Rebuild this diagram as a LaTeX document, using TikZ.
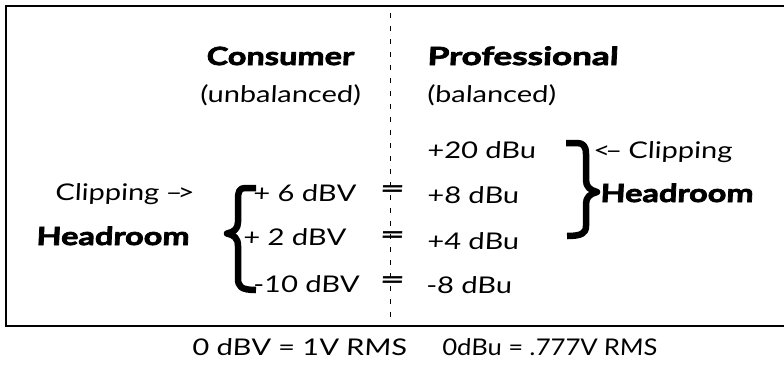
\documentclass[tikz,border=0pt]{standalone}
\usepackage{fontspec}
\setmainfont{Lato}[FakeSlant=0.05, FakeStretch=1.26]
\newfontfamily\heavy{Lato}[FakeSlant=0.05, FakeStretch=1.3, BoldFeatures={FakeBold=3}]
\begin{document}
\begin{tikzpicture}[x=1pt,y=-1pt,
  txt/.style={inner sep=0pt, anchor=base west, font=\fontsize{23}{26}\selectfont},
  hv/.style={inner sep=0pt, anchor=base west, font=\fontsize{25}{28}\heavy\bfseries},
  eq/.style={inner sep=0pt, anchor=center, font=\fontsize{23}{26}\selectfont\bfseries},
  brace/.style={line width=6.5pt, line cap=butt, line join=round},
  frame/.style={line width=2pt},
  divider/.style={line width=1pt, dash pattern=on 5pt off 8pt}]
\useasboundingbox (0,0) rectangle (784,364);
% frame
\coordinate (tr) at (784,6);
\coordinate (tl) at (6,6);
\coordinate (bl) at (6,326);
\coordinate (br) at (784,326);
\draw[frame] (tr) -- (tl) -- (bl) -- (br);
% divider
\coordinate (dtop) at (390.5,13);
\coordinate (dbot) at (390.5,326);
\draw[divider] (dtop) -- (dbot);
% headers
\node[hv, anchor=base] (cons) at (280,65) {Consumer};
\node[txt] (unb) at (200,102) {(unbalanced)};
\node[hv] (prof) at (427,65) {\scalebox{1.08}[1]{Professional}};
\node[txt] (bal) at (427,102) {(balanced)};
% left side
\node[txt] (clipL) at (55,200) {Clipping\kern-1pt{} –\kern-5pt>};
\node[hv] (headL) at (36,245) {Headroom};
\node[txt] (v6) at (253,201) {+ 6 dBV};
\node[txt] (v2) at (243,245) {+ 2 dBV};
\node[txt] (v10) at (253,292) {-10 dBV};
% equals
\node[eq] (e1) at (392,192) {\scalebox{1.5}[1.1]{=}};
\node[eq] (e2) at (392,237.5) {\scalebox{1.5}[1.1]{=}};
\node[eq] (e3) at (392,282.5) {\scalebox{1.5}[1.1]{=}};
% right side
\node[txt] (u20) at (427,158) {+20 dBu};
\node[txt] (u8) at (427,203) {+8 dBu};
\node[txt] (u4) at (427,249) {+4 dBu};
\node[txt] (u8n) at (426,293) {-8 dBu};
\node[txt] (clipR) at (593,158) {<\kern-5pt–\kern-1pt{} Clipping};
\node[hv] (headR) at (600,202) {Headroom};
% braces
\draw[brace] (256,188) -- (245,188) .. controls (239,188) and (238,192) .. (238,200)
  -- (238,222) .. controls (238,229) and (234,232) .. (227,233.5)
  .. controls (234,235) and (238,238) .. (238,246) -- (238,278)
  .. controls (238,286) and (240,290) .. (256,290);
\draw[brace] (566,143) -- (577,143) .. controls (583,143) and (586,146) .. (586,154)
  -- (586,180) .. controls (586,187) and (590,190) .. (597,192)
  .. controls (590,194) and (586,197) .. (586,204) -- (586,226)
  .. controls (586,233) and (582,236) .. (567,236);
% bottom notes
\node[txt] (n1) at (192,355) {0 dBV = 1V RMS};
\node[txt] (n2) at (442,355) {\scalebox{0.88}[1]{0dBu = .777V RMS}};
\end{tikzpicture}
\end{document}
